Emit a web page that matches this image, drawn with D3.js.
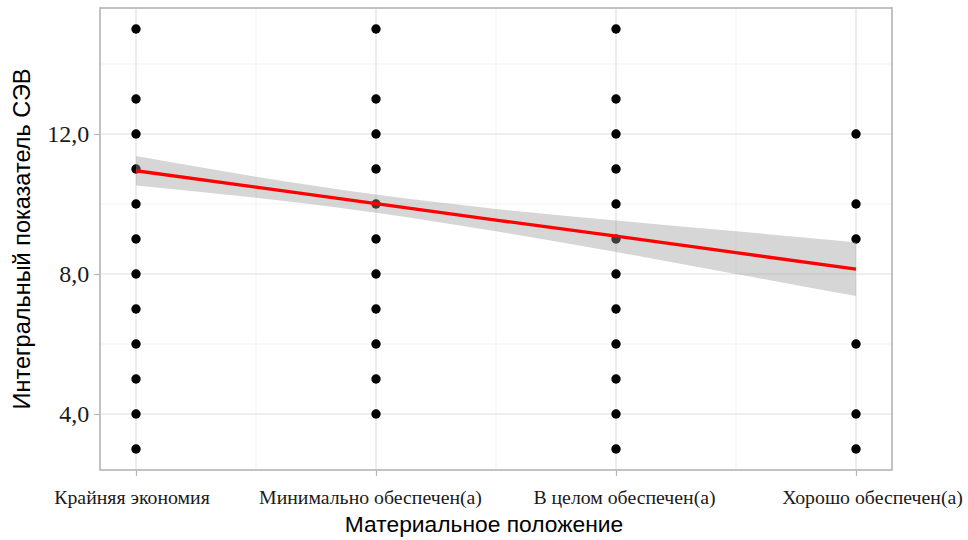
<!DOCTYPE html>
<html>
<head>
<meta charset="utf-8">
<script src="https://cdn.jsdelivr.net/npm/d3@7"></script>
<style>
  body { margin: 0; background: #fff; }
  svg { display: block; }
</style>
</head>
<body>
<svg id="chart" width="968" height="540"></svg>
<script>
// Categories of material status (positions 1..4 on the x axis)
const categories = ["Крайняя экономия", "Минимально обеспечен(а)", "В целом обеспечен(а)", "Хорошо обеспечен(а)"];

// Distinct observed index values per category
const valuesCat1 = [15, 13, 12, 11, 10, 9, 8, 7, 6, 5, 4, 3];
const valuesCat2 = [15, 13, 12, 11, 10, 9, 8, 7, 6, 5, 4];
const valuesCat3 = [15, 13, 12, 11, 10, 9, 8, 7, 6, 5, 4, 3];
const valuesCat4 = [12, 10, 9, 6, 4, 3];

// Linear fit and its confidence band, sampled along x
const fitX     = [1, 1.5, 2, 2.5, 3, 3.5, 4];
const fitY     = [10.95, 10.48, 10.01, 9.54, 9.08, 8.61, 8.14];
const fitLower = [10.53, 10.18, 9.75, 9.22, 8.63, 8.00, 7.37];
const fitUpper = [11.37, 10.78, 10.27, 9.86, 9.53, 9.22, 8.91];

const yTicks = [4, 8, 12];
const yMinor = [6, 10, 14];
const xMinor = [1.5, 2.5, 3.5];

const svg = d3.select("#chart");
const margin = { left: 100, right: 76, top: 8, bottom: 70 };
const W = 968, H = 540;
const pw = W - margin.left - margin.right;
const ph = H - margin.top - margin.bottom;

const x = d3.scaleLinear().domain([0.85, 4.15]).range([margin.left, margin.left + pw]);
const y = d3.scaleLinear().domain([2.4, 15.6]).range([margin.top + ph, margin.top]);

const g = svg.append("g");

// grid
g.selectAll(".ymin").data(yMinor).join("line")
  .attr("x1", margin.left).attr("x2", margin.left + pw)
  .attr("y1", d => y(d)).attr("y2", d => y(d))
  .attr("stroke", "#ececec").attr("stroke-width", 0.7);
g.selectAll(".xmin").data(xMinor).join("line")
  .attr("y1", margin.top).attr("y2", margin.top + ph)
  .attr("x1", d => x(d)).attr("x2", d => x(d))
  .attr("stroke", "#ececec").attr("stroke-width", 0.7);
g.selectAll(".ymaj").data(yTicks).join("line")
  .attr("x1", margin.left).attr("x2", margin.left + pw)
  .attr("y1", d => y(d)).attr("y2", d => y(d))
  .attr("stroke", "#dedede").attr("stroke-width", 1.1);
g.selectAll(".xmaj").data(categories).join("line")
  .attr("y1", margin.top).attr("y2", margin.top + ph)
  .attr("x1", (d, i) => x(i + 1)).attr("x2", (d, i) => x(i + 1))
  .attr("stroke", "#dedede").attr("stroke-width", 1.1);

// points
const pts = [valuesCat1, valuesCat2, valuesCat3, valuesCat4]
  .flatMap((vals, i) => vals.map(v => ({ cx: i + 1, v })));
g.selectAll("circle").data(pts).join("circle")
  .attr("cx", d => x(d.cx)).attr("cy", d => y(d.v))
  .attr("r", 4.7).attr("fill", "#000");

// confidence band
const band = fitX.map((xv, i) => ({ x: xv, lo: fitLower[i], hi: fitUpper[i], y: fitY[i] }));
g.append("path").datum(band)
  .attr("d", d3.area().x(d => x(d.x)).y0(d => y(d.lo)).y1(d => y(d.hi)).curve(d3.curveNatural))
  .attr("fill", "#999999").attr("fill-opacity", 0.4);

// fitted line
g.append("path").datum(band)
  .attr("d", d3.line().x(d => x(d.x)).y(d => y(d.y)))
  .attr("fill", "none").attr("stroke", "#ff0000").attr("stroke-width", 3.3);

// panel border
g.append("rect")
  .attr("x", margin.left).attr("y", margin.top).attr("width", pw).attr("height", ph)
  .attr("fill", "none").attr("stroke", "#b3b3b3").attr("stroke-width", 1.6);

// y axis
const yAxis = d3.axisLeft(y).tickValues(yTicks).tickSize(5).tickPadding(5)
  .tickFormat(d => d3.format(".1f")(d).replace(".", ","));
const ya = svg.append("g").attr("transform", `translate(${margin.left - 0.8},0)`).call(yAxis);
ya.select(".domain").remove();
ya.selectAll(".tick line").attr("stroke", "#b3b3b3").attr("stroke-width", 1.2);
ya.selectAll(".tick text").attr("fill", "#1a1a1a")
  .style("font-family", "'Liberation Serif', 'Times New Roman', serif").style("font-size", "24px");

// x axis
const xAxis = d3.axisBottom(x).tickValues([1, 2, 3, 4]).tickSize(5).tickPadding(14)
  .tickFormat(d => categories[d - 1]);
const xa = svg.append("g").attr("transform", `translate(0,${margin.top + ph + 0.8})`).call(xAxis);
xa.select(".domain").remove();
xa.selectAll(".tick line").attr("stroke", "#b3b3b3").attr("stroke-width", 1.2);
// small horizontal nudges of the category labels
const labelNudge = [-4.5, -6, 8, 16];
xa.selectAll(".tick text").attr("fill", "#1a1a1a")
  .attr("dx", (d, i) => labelNudge[i])
  .style("font-family", "'Liberation Serif', 'Times New Roman', serif").style("font-size", "19.8px");

// axis titles
svg.append("text")
  .attr("x", x(2.5) - 12).attr("y", 532)
  .attr("text-anchor", "middle")
  .style("font-family", "'Liberation Sans', Arial, sans-serif").style("font-size", "22.8px")
  .attr("fill", "#000")
  .text("Материальное положение");
svg.append("text")
  .attr("transform", `translate(30,${margin.top + ph / 2}) rotate(-90)`)
  .attr("text-anchor", "middle")
  .style("font-family", "'Liberation Sans', Arial, sans-serif").style("font-size", "23.5px")
  .attr("fill", "#000")
  .text("Интегральный показатель СЭВ");
</script>
</body>
</html>
